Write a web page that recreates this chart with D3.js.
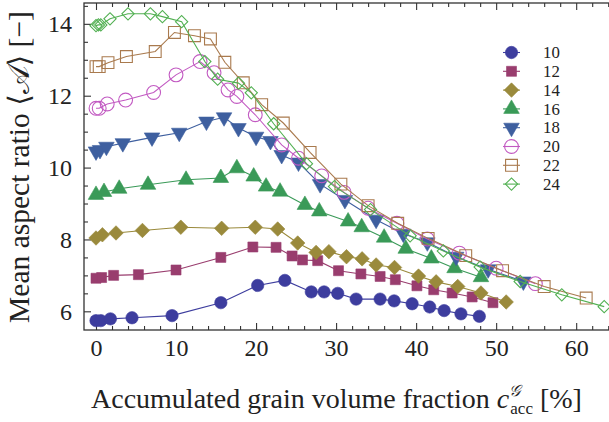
<!DOCTYPE html>
<html><head><meta charset="utf-8">
<script src="https://cdn.jsdelivr.net/npm/d3@7"></script>
<style>
body{margin:0;background:#fff;}
svg text{font-family:"Liberation Serif","DejaVu Serif",serif;fill:#222;}
</style></head>
<body><svg id="chart" width="609" height="422"></svg>
<script>
// ---- data ----
const seriesNames = ["10","12","14","16","18","20","22","24"];
const colors = ["#3d3d9e","#993d6e","#9a8a3c","#3a9a58","#3e5f9f","#c25ac2","#a97a4e","#52b052"];
const shapes = ["circle","square","diamond","triangleUp","triangleDown","circle","square","diamond"];
const filled = [true,true,true,true,true,false,false,false];

const x10 = [0,0.6,1.8,4.5,9.5,15.6,20.2,23.6,26.9,28.5,30.2,32.5,35.5,37.25,39.5,41.7,43.5,45.6,47.9];
const y10 = [5.74,5.74,5.79,5.82,5.88,6.24,6.72,6.86,6.54,6.54,6.50,6.34,6.34,6.29,6.21,6.12,6.02,5.93,5.86];
const x12 = [0,0.7,2.2,5.3,10.0,15.6,19.6,22.5,24.5,25.8,27.7,30.3,33.1,35.5,37.4,40.1,42.2,44.5,47.0,49.6];
const y12 = [6.92,6.94,7.0,7.02,7.15,7.50,7.79,7.78,7.54,7.43,7.41,7.13,7.04,6.97,6.88,6.71,6.60,6.51,6.40,6.24];
const x14 = [0,0.8,2.5,5.8,10.6,15.7,19.9,22.7,25.2,27.5,29.1,31.3,33.25,35.0,37.3,40.3,42.5,45.2,48.1,51.25];
const y14 = [8.04,8.13,8.18,8.25,8.34,8.31,8.34,8.29,7.90,7.64,7.66,7.52,7.46,7.29,7.22,6.98,6.82,6.69,6.51,6.26];
const x16 = [0,1.0,2.9,6.5,11.25,15.6,17.6,19.7,21.25,23.0,26.1,27.9,31.5,33.2,36.0,38.7,41.9,44.8,48.1];
const y16 = [9.24,9.32,9.41,9.52,9.66,9.71,9.98,9.75,9.47,9.33,8.96,8.78,8.50,8.34,8.05,7.74,7.47,7.20,6.95];
const x18 = [0,0.5,1.3,3.35,7.0,10.4,13.8,16.0,17.8,20.0,21.8,23.2,25.3,28.0,31.1,35.0,38.4,41.4,45.0,49.0,53.4];
const y18 = [10.45,10.49,10.58,10.68,10.84,10.97,11.28,11.40,11.10,10.86,10.74,10.35,10.14,9.54,9.10,8.55,8.16,7.92,7.52,7.17,6.83];
const x20 = [0,0.4,1.4,3.7,7.2,10.0,13.0,14.75,16.5,17.6,19.9,23.2,25.3,28.2,31.0,34.0,37.6,41.4,45.4,50.0,54.9];
const y20 = [11.65,11.65,11.77,11.88,12.09,12.58,12.95,12.64,12.16,11.98,11.47,10.63,10.26,9.77,9.31,8.87,8.45,8.01,7.62,7.20,6.77];
const x22 = [0,0.4,1.5,3.8,7.4,9.8,12.3,14.3,16.1,18.4,20.7,23.4,26.75,30.6,34.0,37.7,41.5,46.2,50.8,56.0,61.25];
const y22 = [12.81,12.81,12.92,13.09,13.23,13.76,13.67,13.58,12.93,12.36,11.75,11.24,10.42,9.54,8.94,8.45,8.03,7.55,7.13,6.69,6.37];
const x24 = [0,0.3,0.6,1.75,4.0,6.8,8.3,10.7,13.6,15.2,17.8,19.4,22.2,26.3,29.8,34.3,39.25,43.4,48.0,53.0,58.2,63.5];
const y24 = [13.95,13.97,13.97,14.14,14.28,14.28,14.20,14.06,12.95,12.46,12.35,12.08,11.22,10.11,9.47,8.83,8.10,7.68,7.23,6.83,6.46,6.13];

const xs = [x10,x12,x14,x16,x18,x20,x22,x24];
const ys = [y10,y12,y14,y16,y18,y20,y22,y24];

const xTicks = [0,10,20,30,40,50,60];
const yTicks = [6,8,10,12,14];

// ---- chart ----
const FONT = "'Liberation Serif','DejaVu Serif',serif";
const svg = d3.select("#chart");
const L = 84, R = 609, T = 3, B = 330;
const x = d3.scaleLinear().domain([-1.5, 64.1]).range([L, R]);
const y = d3.scaleLinear().domain([5.48, 14.58]).range([B, T]);

const axisColor = "#333";
const minorX = d3.range(0, 64.1, 2);
const minorY = d3.range(6, 14.6, 0.5);

// frame
svg.append("rect").attr("x",L).attr("y",T).attr("width",R-L+2).attr("height",B-T)
  .attr("fill","none").attr("stroke",axisColor).attr("stroke-width",1.3);

// bottom axis
const gx = svg.append("g").attr("transform",`translate(0,${B})`)
  .call(d3.axisBottom(x).tickValues(xTicks).tickSize(-7).tickPadding(9).tickFormat(d3.format("d")));
gx.attr("font-family",FONT);
gx.select(".domain").remove();
gx.selectAll("text").attr("font-size",24).attr("font-family",FONT).attr("dy","0.71em");
const gxm = svg.append("g").attr("transform",`translate(0,${B})`)
  .call(d3.axisBottom(x).tickValues(minorX.filter(v=>v%10!==0)).tickSize(-4).tickFormat(""));
gxm.select(".domain").remove();
// top axis
const gt = svg.append("g").attr("transform",`translate(0,${T})`)
  .call(d3.axisTop(x).tickValues(xTicks).tickSize(-7).tickFormat(""));
gt.select(".domain").remove();
const gtm = svg.append("g").attr("transform",`translate(0,${T})`)
  .call(d3.axisTop(x).tickValues(minorX.filter(v=>v%10!==0)).tickSize(-4).tickFormat(""));
gtm.select(".domain").remove();
// left axis
const gy = svg.append("g").attr("transform",`translate(${L},0)`)
  .call(d3.axisLeft(y).tickValues(yTicks).tickSize(-7).tickPadding(12).tickFormat(d3.format("d")));
gy.attr("font-family",FONT);
gy.select(".domain").remove();
gy.selectAll("text").attr("font-size",24).attr("font-family",FONT);
const gym = svg.append("g").attr("transform",`translate(${L},0)`)
  .call(d3.axisLeft(y).tickValues(minorY.filter(v=>v%2!==0)).tickSize(-4).tickFormat(""));
gym.select(".domain").remove();
svg.selectAll(".tick line").attr("stroke",axisColor).attr("stroke-width",1.1);

// symbols
function symPath(shape, isFilled){
  if(shape==="circle") return d3.symbol(d3.symbolCircle, isFilled?120:150)();
  if(shape==="square") return d3.symbol(d3.symbolSquare, isFilled?100:140)();
  if(shape==="diamond") return d3.symbol(d3.symbolSquare, isFilled?105:75)();
  return d3.symbol(d3.symbolTriangle, 105)();
}
function symRot(shape){
  if(shape==="diamond") return 45;
  if(shape==="triangleDown") return 180;
  return 0;
}

const line = d3.line().x(d=>x(d[0])).y(d=>y(d[1]));
const plot = svg.append("g");
seriesNames.forEach((name,i)=>{
  const pts = xs[i].map((v,j)=>[v, ys[i][j]]);
  const g = plot.append("g");
  g.append("path").attr("d",line(pts)).attr("fill","none").attr("stroke",colors[i]).attr("stroke-width",1.1);
  g.selectAll("path.m").data(pts).join("path").attr("class","m")
    .attr("d",symPath(shapes[i],filled[i]))
    .attr("transform",d=>`translate(${x(d[0])},${y(d[1])}) rotate(${symRot(shapes[i])})`)
    .attr("fill",filled[i]?colors[i]:"none")
    .attr("stroke",colors[i]).attr("stroke-width",filled[i]?0.6:1.1);
});

// legend
const lg = svg.append("g");
seriesNames.forEach((name,i)=>{
  const yy = 52.5 + i*18.8;
  lg.append("line").attr("x1",503).attr("x2",520).attr("y1",yy).attr("y2",yy)
    .attr("stroke",colors[i]).attr("stroke-width",1.1);
  lg.append("path").attr("d",symPath(shapes[i],filled[i]))
    .attr("transform",`translate(511.5,${yy}) rotate(${symRot(shapes[i])})`)
    .attr("fill",filled[i]?colors[i]:"none").attr("stroke",colors[i]).attr("stroke-width",filled[i]?0.6:1.1);
  lg.append("text").attr("x",543).attr("y",yy).attr("dy","0.34em").attr("font-size",16.8)
    .attr("font-family",FONT).text(name);
});

// axis titles
const xt = svg.append("text").attr("x",91).attr("y",408).attr("font-size",28).attr("font-family",FONT);
xt.append("tspan").text("Accumulated grain volume fraction ");
xt.append("tspan").attr("font-style","italic").text("c");
xt.append("tspan").attr("font-size",16).attr("font-style","italic").attr("dy",-12).text("𝒢");
xt.append("tspan").attr("font-size",17).attr("dx",-10).attr("dy",18).text("acc");
xt.append("tspan").attr("dy",-6).text(" [%]");

const yt = svg.append("text").attr("transform","translate(29,167) rotate(-90)")
  .attr("text-anchor","middle").attr("font-size",29.5).attr("font-family",FONT);
yt.append("tspan").text("Mean aspect ratio ⟨");
yt.append("tspan").text("𝒜");
yt.append("tspan").text("⟩ [−]");
</script>
</body></html>
